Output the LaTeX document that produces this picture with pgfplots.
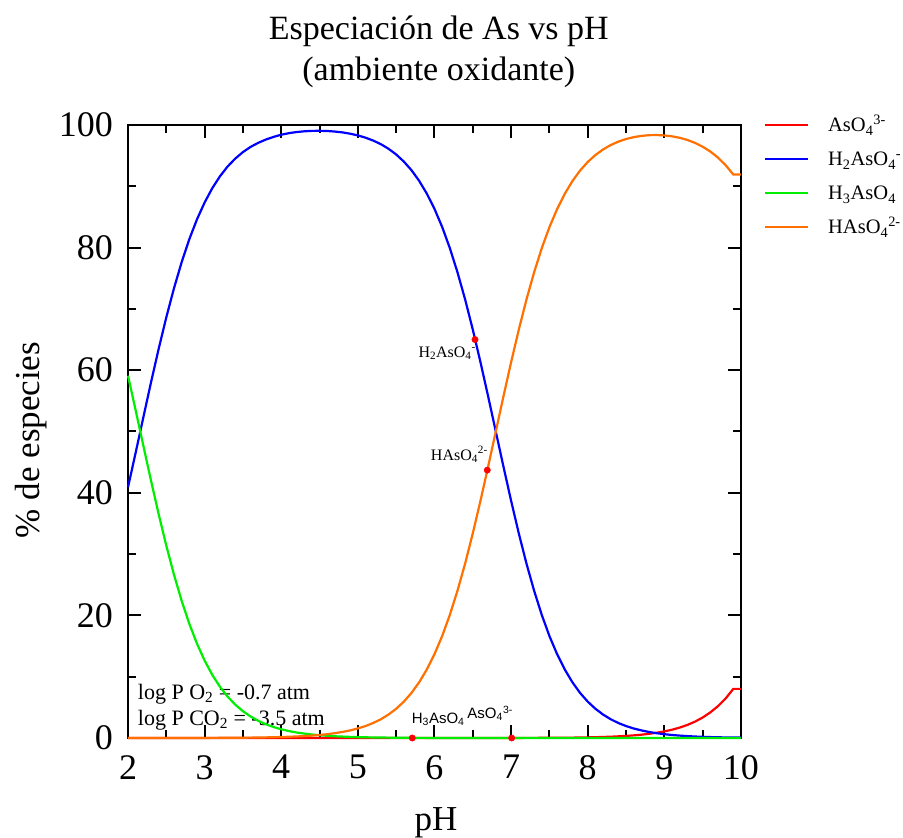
\documentclass[border=0pt]{standalone}
\usepackage{fontspec}
\setmainfont{Liberation Serif}
\newfontfamily\labelsans{Liberation Sans}
\usepackage{pgfplots}
\pgfplotsset{compat=1.18}

\definecolor{asred}{RGB}{255,0,0}
\definecolor{asblue}{RGB}{0,0,255}
\definecolor{asgreen}{RGB}{0,238,0}
\definecolor{asorange}{RGB}{255,112,0}

\begin{document}
\begin{tikzpicture}
\useasboundingbox (0,0) rectangle (903pt,838pt);
\begin{axis}[
  at={(128pt,100pt)}, anchor=south west,
  scale only axis, width=613pt, height=613pt,
  xmin=2, xmax=10, ymin=0, ymax=100,
  xtick={2,3,...,10}, minor xtick={2.5,3.5,...,9.5},
  ytick={0,20,...,100}, minor ytick={10,30,...,90},
  tick align=inside,
  major tick length=13pt, minor tick length=8pt,
  tick style={black, line width=2pt},
  axis line style={line width=2.2pt},
  /pgf/number format/assume math mode=true,
  tick label style={font=\fontsize{36}{40}\selectfont},
  xticklabel style={inner sep=0pt, yshift=-17pt},
  yticklabel style={inner sep=0pt, xshift=-15pt},
  xlabel={pH},
  xlabel style={at={(axis description cs:0.5024,-0.1517)}, anchor=base,
    inner sep=0pt, font=\fontsize{35}{40}\selectfont},
  ylabel={\% de especies},
  ylabel style={at={(axis description cs:-0.1436,0.486)}, anchor=base,
    inner sep=0pt, font=\fontsize{35}{40}\selectfont},
  legend style={
    at={(axis description cs:1,1)}, anchor=north west,
    xshift=23pt, yshift=17pt,
    draw=none, fill=none, inner sep=0pt, outer sep=0pt,
    font=\fontsize{20.5}{25}\selectfont,
    row sep=0pt,
    nodes={inner sep=0pt, text height=24pt, text depth=10pt},
    /tikz/every odd column/.append style={column sep=19pt},
  },
  legend cell align=left,
  legend image code/.code={\draw[#1, line width=2.2pt] (0pt,0pt) -- (43pt,0pt);},
  clip=false,
]

% titles and notes
\node[anchor=base, inner sep=0pt, font=\fontsize{34}{40}\selectfont]
  at (axis description cs:0.507,1.1387) {Especiación de As vs pH};
\node[anchor=base, inner sep=0pt, font=\fontsize{34}{40}\selectfont]
  at (axis description cs:0.507,1.0734) {(ambiente oxidante)};
\node[anchor=base west, inner sep=0pt, font=\fontsize{22}{26}\selectfont]
  at (axis cs:2.127,6.36) {log P O\textsubscript{2} = -0.7 atm};
\node[anchor=base west, inner sep=0pt, font=\fontsize{22}{26}\selectfont]
  at (axis cs:2.127,2.12) {log P CO\textsubscript{2} = -3.5 atm};

% AsO4 3-
\addplot[asred, line width=2.2pt] coordinates {
(2.0,0) (3.0,0) (4.0,0) (5.0,0) (6.0,0) (7.0,0.01) (7.5,0.03) (7.8,0.06)
(8.0,0.10) (8.1,0.13) (8.2,0.17) (8.3,0.21) (8.4,0.27) (8.5,0.34) (8.6,0.43)
(8.7,0.54) (8.8,0.68) (8.9,0.86) (9.0,1.08) (9.1,1.35) (9.2,1.70) (9.3,2.13)
(9.4,2.67) (9.5,3.34) (9.6,4.18) (9.7,5.20) (9.8,6.46) (9.9,8.01) (10.0,8.01)
};
\addlegendentry{AsO\textsubscript{4}\textsuperscript{3-}}

% H2AsO4-
\addplot[asblue, line width=2.2pt] coordinates {
(2.0,40.90) (2.1,46.55) (2.2,52.30) (2.3,58.00) (2.4,63.47) (2.5,68.63)
(2.6,73.36) (2.7,77.61) (2.8,81.36) (2.9,84.60) (3.0,87.36) (3.1,89.69)
(3.2,91.63) (3.3,93.23) (3.4,94.52) (3.5,95.58) (3.6,96.43) (3.7,97.09)
(3.8,97.63) (3.9,98.06) (4.0,98.42) (4.1,98.67) (4.2,98.85) (4.3,98.97)
(4.4,99.04) (4.5,99.05) (4.6,99.02) (4.7,98.93) (4.8,98.79) (4.9,98.58)
(5.0,98.30) (5.1,97.93) (5.2,97.46) (5.3,96.87) (5.4,96.12) (5.5,95.19)
(5.6,94.03) (5.7,92.62) (5.8,90.89) (5.9,88.80) (6.0,86.31) (6.1,83.37)
(6.2,79.92) (6.3,75.97) (6.4,71.53) (6.5,66.61) (6.6,61.31) (6.7,55.73)
(6.8,50.00) (6.9,44.27) (7.0,38.69) (7.1,33.39) (7.2,28.47) (7.3,24.03)
(7.4,20.08) (7.5,16.63) (7.6,13.68) (7.7,11.18) (7.8,9.09) (7.9,7.35)
(8.0,5.93) (8.1,4.77) (8.2,3.82) (8.3,3.06) (8.4,2.44) (8.5,1.95)
(8.6,1.55) (8.7,1.24) (8.8,0.98) (8.9,0.78) (9.0,0.62) (9.1,0.49)
(9.2,0.39) (9.3,0.31) (9.4,0.24) (9.5,0.19) (9.6,0.15) (9.7,0.12)
(9.8,0.09) (9.9,0.07) (10.0,0.07)
};
\addlegendentry{H\textsubscript{2}AsO\textsubscript{4}\textsuperscript{-}}

% H3AsO4
\addplot[asgreen, line width=2.2pt] coordinates {
(2.0,59.10) (2.1,53.45) (2.2,47.70) (2.3,42.00) (2.4,36.53) (2.5,31.37)
(2.6,26.64) (2.7,22.39) (2.8,18.64) (2.9,15.40) (3.0,12.63) (3.1,10.30)
(3.2,8.36) (3.3,6.75) (3.4,5.44) (3.5,4.37) (3.6,3.50) (3.7,2.80)
(3.8,2.24) (3.9,1.79) (4.0,1.42) (4.1,1.13) (4.2,0.90) (4.3,0.72)
(4.4,0.57) (4.5,0.45) (4.6,0.36) (4.7,0.28) (4.8,0.23) (4.9,0.18)
(5.0,0.14) (5.2,0.09) (5.4,0.06) (5.6,0.03) (5.8,0.02) (6.0,0.01)
(7.0,0) (8.0,0) (9.0,0) (10.0,0)
};
\addlegendentry{H\textsubscript{3}AsO\textsubscript{4}}

% HAsO4 2-
\addplot[asorange, line width=2.2pt] coordinates {
(2.0,0) (3.0,0.01) (3.5,0.05) (3.6,0.06) (3.7,0.08) (3.8,0.10) (3.9,0.13)
(4.0,0.16) (4.1,0.20) (4.2,0.25) (4.3,0.31) (4.4,0.39) (4.5,0.50)
(4.6,0.62) (4.7,0.79) (4.8,0.99) (4.9,1.24) (5.0,1.56) (5.1,1.95)
(5.2,2.45) (5.3,3.06) (5.4,3.83) (5.5,4.77) (5.6,5.93) (5.7,7.36)
(5.8,9.09) (5.9,11.18) (6.0,13.68) (6.1,16.63) (6.2,20.08) (6.3,24.03)
(6.4,28.47) (6.5,33.39) (6.6,38.69) (6.7,44.27) (6.8,50.00) (6.9,55.73)
(7.0,61.31) (7.1,66.60) (7.2,71.52) (7.3,75.96) (7.4,79.90) (7.5,83.34)
(7.6,86.28) (7.7,88.77) (7.8,90.85) (7.9,92.57) (8.0,93.97) (8.1,95.10)
(8.2,96.01) (8.3,96.73) (8.4,97.29) (8.5,97.71) (8.6,98.02) (8.7,98.22)
(8.8,98.34) (8.9,98.36) (9.0,98.30) (9.1,98.15) (9.2,97.91) (9.3,97.56)
(9.4,97.08) (9.5,96.46) (9.6,95.67) (9.7,94.68) (9.8,93.44) (9.9,91.92)
(10.0,91.92)
};
\addlegendentry{HAsO\textsubscript{4}\textsuperscript{2-}}

% labelled points on the curves
\addplot[only marks, mark=*, mark size=3.2pt, color=asred, forget plot]
  coordinates {(6.529,65.0) (6.689,43.7) (5.71,0) (7.007,0)};

\node[anchor=base east, inner sep=0pt, font=\fontsize{16}{19}\selectfont]
  at (axis cs:6.542,62.15) {H\textsubscript{2}AsO\textsubscript{4}\textsuperscript{-}};
\node[anchor=base east, inner sep=0pt, font=\fontsize{16}{19}\selectfont]
  at (axis cs:6.698,45.35) {HAsO\textsubscript{4}\textsuperscript{2-}};
\node[anchor=base west, inner sep=0pt, font=\labelsans\fontsize{15}{18}\selectfont]
  at (axis cs:5.702,2.40) {H\textsubscript{3}AsO\textsubscript{4}};
\node[anchor=base west, inner sep=0pt, font=\labelsans\fontsize{15}{18}\selectfont]
  at (axis cs:6.428,3.21) {AsO\textsubscript{4}\textsuperscript{3-}};
\end{axis}
\end{tikzpicture}
\end{document}
